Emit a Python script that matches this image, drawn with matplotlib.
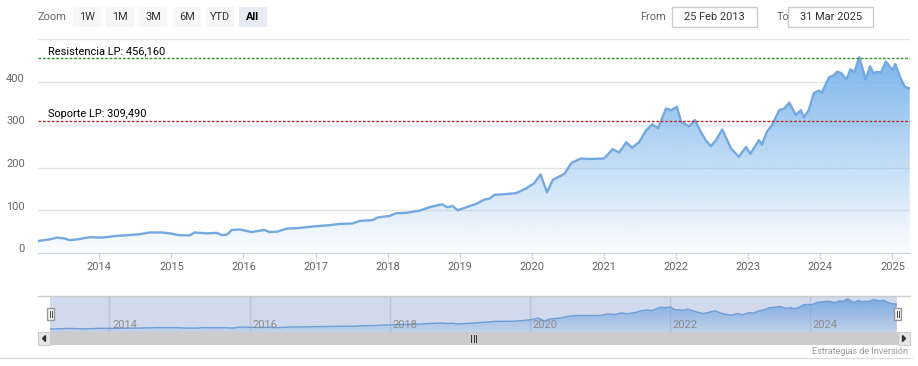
import numpy as np
import matplotlib.pyplot as plt
from matplotlib.patches import Rectangle, Polygon
from matplotlib.colors import to_rgb
from matplotlib.transforms import ScaledTranslation

W, H = 918, 366

# price series (decimal year, value)
t_years = [2013.15, 2013.32, 2013.41, 2013.52, 2013.59, 2013.70, 2013.87, 2014.04,
           2014.24, 2014.42, 2014.56, 2014.70, 2014.87, 2014.98, 2015.09, 2015.25,
           2015.32, 2015.49, 2015.63, 2015.70, 2015.77, 2015.84, 2015.95, 2016.11,
           2016.29, 2016.36, 2016.47, 2016.60, 2016.74, 2016.96, 2017.19, 2017.33,
           2017.51, 2017.61, 2017.79, 2017.86, 2018.03, 2018.12, 2018.26, 2018.44,
           2018.58, 2018.75, 2018.83, 2018.90, 2018.97, 2019.09, 2019.23, 2019.34,
           2019.41, 2019.48, 2019.65, 2019.78, 2019.92, 2020.03, 2020.12, 2020.21,
           2020.29, 2020.38, 2020.45, 2020.55, 2020.68, 2020.80, 2021.00, 2021.12,
           2021.21, 2021.31, 2021.39, 2021.49, 2021.58, 2021.67, 2021.75, 2021.86,
           2021.93, 2022.01, 2022.07, 2022.18, 2022.26, 2022.35, 2022.41, 2022.48,
           2022.55, 2022.64, 2022.76, 2022.87, 2022.97, 2023.03, 2023.15, 2023.19,
           2023.26, 2023.33, 2023.43, 2023.50, 2023.57, 2023.66, 2023.73, 2023.77,
           2023.84, 2023.91, 2023.98, 2024.02, 2024.12, 2024.19, 2024.23, 2024.29,
           2024.36, 2024.42, 2024.47, 2024.54, 2024.63, 2024.69, 2024.74, 2024.78,
           2024.84, 2024.91, 2024.96, 2025.00, 2025.04, 2025.10, 2025.17, 2025.24]
price = [28, 32, 36, 34, 30, 32, 37, 36,
         40, 42, 44, 48, 48, 46, 42, 41,
         48, 46, 47, 42, 43, 54, 55, 49,
         54, 49, 50, 57, 58, 62, 65, 68,
         69, 75, 77, 83, 87, 93, 94, 99,
         107, 114, 107, 110, 100, 107, 115, 125,
         127, 136, 138, 140, 151, 163, 184, 142,
         171, 179, 185, 211, 221, 220, 221, 243,
         235, 259, 246, 260, 286, 301, 292, 338,
         334, 342, 307, 296, 311, 281, 264, 250,
         263, 289, 245, 225, 248, 232, 264, 253,
         284, 299, 334, 338, 352, 323, 334, 317,
         334, 374, 380, 375, 411, 416, 424, 421,
         406, 430, 422, 458, 406, 437, 420, 424,
         422, 448, 437, 428, 442, 414, 389, 385]

resistance = 456.160
support = 309.490
y_ticks = [0, 100, 200, 300, 400, 500]
year_ticks = list(range(2014, 2026))
nav_ticks = list(range(2014, 2025, 2))
zoom_buttons = ['1W', '1M', '3M', '6M', 'YTD', 'All']
date_from = '25 Feb 2013'
date_to = '31 Mar 2025'
t_start = 2013 + 55 / 365
t_end = 2025 + 89 / 365

plt.rcParams['font.family'] = ['Roboto', 'DejaVu Sans']
FS = 7.9  # ~11px


def box(x0, y0, x1, y1):
    """pixel box (top-left origin) -> figure rect"""
    return [x0 / W, 1 - y1 / H, (x1 - x0) / W, (y1 - y0) / H]


def gradient_area(ax, x, y, ymin, ytop, a_top, a_bot, color='#7cb5ec'):
    verts = np.column_stack([np.r_[x[0], x, x[-1]], np.r_[ymin, y, ymin]])
    clip = Polygon(verts, closed=True, facecolor='none', edgecolor='none')
    ax.add_patch(clip)
    grad = np.zeros((256, 1, 4))
    grad[:, :, :3] = to_rgb(color)
    grad[:, 0, 3] = np.linspace(a_top, a_bot, 256)
    im = ax.imshow(grad, aspect='auto', origin='upper', zorder=1,
                   extent=[x[0], x[-1], ymin, ytop])
    im.set_clip_path(clip)


fig = plt.figure(figsize=(W / 100, H / 100), dpi=100)

# main chart
ax = fig.add_axes(box(38, 39.25, 910, 253))
gradient_area(ax, t_years, price, 0, 460, 1.0, 0.02)
ax.plot(t_years, price, color='#74a9e0', lw=1.7, zorder=3)
ax.set_xlim(t_start, t_end)
ax.set_ylim(0, 500)
ax.set_yticks(y_ticks)
ax.set_yticklabels([str(v) for v in y_ticks[:-1]] + [''])
ax.set_xticks(year_ticks)
ax.set_xticklabels([str(y) for y in year_ticks])
ax.yaxis.grid(True, color='#e6e6e6', lw=1)
ax.set_axisbelow(True)
for s in ['top', 'left', 'right']:
    ax.spines[s].set_visible(False)
ax.spines['bottom'].set_color('#ccd6eb')
ax.tick_params(axis='y', length=0, pad=9.5, labelsize=FS, labelcolor='#666666')
ax.tick_params(axis='x', length=4.5, width=1, color='#ccd6eb', pad=2,
               labelsize=FS, labelcolor='#666666')
for lab in ax.get_yticklabels():
    lab.set_transform(lab.get_transform() + ScaledTranslation(0, 0.045, fig.dpi_scale_trans))

ax.axhline(resistance, color='#3b8f3b', lw=1, ls=(0, (2, 1.2)), zorder=4)
ax.axhline(support, color='#b03030', lw=1, ls=(0, (2, 1.2)), zorder=4)
ax.annotate('Resistencia LP: 456,160', xy=(0, resistance), xycoords=('axes fraction', 'data'),
            xytext=(10, 2), textcoords='offset pixels', fontsize=FS, color='#000000', va='bottom')
ax.annotate('Soporte LP: 309,490', xy=(0, support), xycoords=('axes fraction', 'data'),
            xytext=(10, 2), textcoords='offset pixels', fontsize=FS, color='#000000', va='bottom')

# navigator
nav = fig.add_axes(box(50, 296, 897, 332))
gradient_area(nav, t_years, price, -15, 460, 0.95, 0.15)
nav.plot(t_years, price, color='#74a9e0', lw=1, zorder=3)
nav.set_xlim(t_start, t_end)
nav.set_ylim(-15, 500)
for yr in nav_ticks:
    nav.axvline(yr, color='#e0e0e0', lw=1, zorder=0.5)
    nav.annotate(str(yr), xy=(yr, 0), xycoords=('data', 'axes fraction'), xytext=(3, 4),
                 textcoords='offset pixels', fontsize=FS, color='#8a8a8a', zorder=6)
nav.add_patch(Rectangle((0, 0), 1, 1, transform=nav.transAxes,
                        color=(102 / 255, 133 / 255, 194 / 255), alpha=0.3, lw=0, zorder=5))
nav.axis('off')

# overlay in pixel coordinates for the UI parts
ui = fig.add_axes([0, 0, 1, 1])
ui.set_xlim(0, W)
ui.set_ylim(H, 0)
ui.axis('off')

ui.text(38, 17, 'Zoom', fontsize=FS, color='#666666', va='center', ha='left')
btn_x = [73, 106, 139, 173, 206, 239]
for bx, lbl in zip(btn_x, zoom_buttons):
    sel = lbl == 'All'
    ui.add_patch(Rectangle((bx, 7), 28, 20, facecolor='#e6ebf5' if sel else '#f7f7f7', lw=0))
    ui.text(bx + 14, 17, lbl, fontsize=FS, ha='center', va='center',
            color='#000000' if sel else '#333333', fontweight='bold' if sel else 'normal')

ui.text(640, 17, 'From', fontsize=FS, color='#666666', va='center')
ui.add_patch(Rectangle((672, 7), 85, 20, facecolor='white', edgecolor='#cccccc', lw=1))
ui.text(714.5, 17, date_from, fontsize=FS, color='#333333', ha='center', va='center')
ui.text(777, 17, 'To', fontsize=FS, color='#666666', va='center')
ui.add_patch(Rectangle((788, 7), 85, 20, facecolor='white', edgecolor='#cccccc', lw=1))
ui.text(830.5, 17, date_to, fontsize=FS, color='#333333', ha='center', va='center')

# navigator outline and handles
ui.plot([38, 910], [296, 296], color='#cccccc', lw=1)
for hx in [47, 894]:
    ui.add_patch(Rectangle((hx, 308), 7, 12, facecolor='#f2f2f2', edgecolor='#999999', lw=1))
    ui.plot([hx + 2.5, hx + 2.5], [311, 317], color='#333333', lw=0.6)
    ui.plot([hx + 4.5, hx + 4.5], [311, 317], color='#333333', lw=0.6)

# scrollbar
ui.add_patch(Rectangle((38, 332), 872, 13, facecolor='#cccccc', lw=0))
ui.add_patch(Rectangle((38, 332), 12, 13, facecolor='#e6e6e6', edgecolor='#cccccc', lw=0.8))
ui.add_patch(Rectangle((898, 332), 12, 13, facecolor='#e6e6e6', edgecolor='#cccccc', lw=0.8))
ui.add_patch(Polygon([[45.5, 335.5], [45.5, 341.5], [42.5, 338.5]], closed=True, color='#333333'))
ui.add_patch(Polygon([[902.5, 335.5], [902.5, 341.5], [905.5, 338.5]], closed=True, color='#333333'))
for rx in [471, 473.5, 476]:
    ui.plot([rx, rx], [335, 342], color='#333333', lw=0.7)

ui.text(908, 351, 'Estrategias de Inversión', fontsize=6.5, color='#999999', ha='right', va='center')
ui.plot([0, 912], [358, 358], color='#dddddd', lw=1)

fig.savefig('out.png', dpi=100)
